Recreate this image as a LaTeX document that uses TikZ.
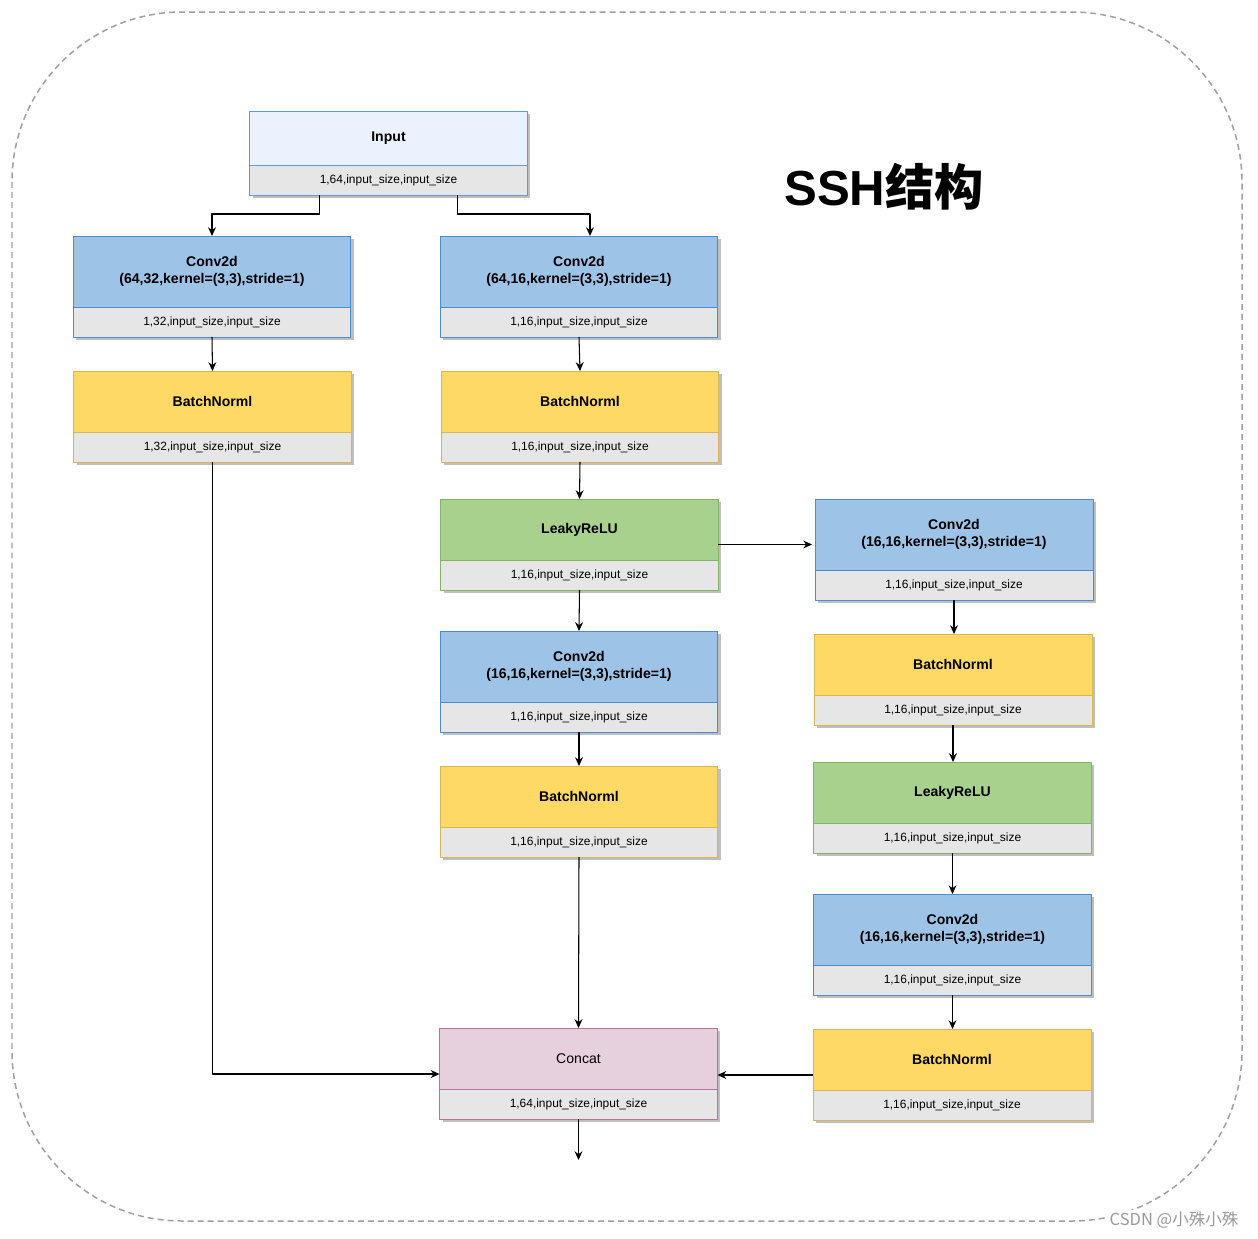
\documentclass[tikz,border=0pt]{standalone}
\usepackage{fontspec}
\setmainfont{Liberation Sans}
\newfontfamily\cjk{Noto Sans CJK SC}
\usetikzlibrary{positioning,arrows.meta,shadows}

\definecolor{inputfill}{HTML}{EBF2FD}
\definecolor{inputline}{HTML}{5C9BE0}
\definecolor{convfill}{HTML}{9DC3E6}
\definecolor{convline}{HTML}{4A8BD3}
\definecolor{bnfill}{HTML}{FFD966}
\definecolor{bnline}{HTML}{D6B656}
\definecolor{relufill}{HTML}{A9D18E}
\definecolor{reluline}{HTML}{82B366}
\definecolor{catfill}{HTML}{E6D0DE}
\definecolor{catline}{HTML}{B5739D}
\definecolor{dimfill}{HTML}{E6E6E6}
\definecolor{frameline}{HTML}{A0A0A0}

\begin{document}
\begin{tikzpicture}[
    x=0.02cm,
    y=-0.02cm,
    line join=round,
    layer/.style={
        draw,
        line width=0.55pt,
        outer sep=0pt,
        minimum width=5.56cm,
        text width=5.4cm,
        align=center,
        inner sep=0pt,
        font=\bfseries\fontsize{8}{9.6}\selectfont,
        drop shadow={shadow xshift=1.7pt, shadow yshift=-1.7pt,
                     fill=black!25, opacity=1}
    },
    dims/.style={
        layer,
        fill=dimfill,
        minimum height=0.6cm,
        font=\fontsize{6.8}{8}\selectfont
    },
    inputbox/.style={layer, fill=inputfill, draw=inputline, minimum height=1.08cm},
    convbox/.style={layer, fill=convfill, draw=convline, minimum height=1.42cm},
    bnbox/.style={layer, fill=bnfill, draw=bnline, minimum height=1.22cm},
    relubox/.style={layer, fill=relufill, draw=reluline, minimum height=1.22cm},
    catbox/.style={layer, fill=catfill, draw=catline, minimum height=1.22cm,
                   font=\fontsize{8}{9.6}\selectfont},
    link/.style={
        line width=0.6pt,
        -{Stealth[length=5pt,width=4.5pt]}
    }
]

\useasboundingbox (0,0) rectangle (1258,1238);

% =================================================
% Рамка и заголовок
% =================================================

\draw[frameline, line width=0.85pt, dash pattern=on 3.4pt off 2.3pt,
      rounded corners=3.4cm] (12,12) rectangle (1242,1221);

\node (title) at (884,187)
    {\fontsize{28}{32}\selectfont\bfseries SSH{\cjk\bfseries 结构}};

\node[fill=white, text=black!40, inner sep=1pt,
      font=\cjk\fontsize{9.4}{11}\selectfont] (mark) at (1174,1220)
    {CSDN @小殊小殊};

% =================================================
% Вход
% =================================================

\node[inputbox] (inp) at (388.5,138) {Input};
\node[dims, draw=inputline, below=0pt of inp] (inp-dim) {1,64,input\_size,input\_size};

% =================================================
% Левая ветвь
% =================================================

\node[convbox] (conv1) at (212,271.5) {Conv2d\\(64,32,kernel=(3,3),stride=1)};
\node[dims, draw=convline, below=0pt of conv1] (conv1-dim) {1,32,input\_size,input\_size};

\node[bnbox] (bn1) at (212.5,401.5) {BatchNorml};
\node[dims, draw=bnline, below=0pt of bn1] (bn1-dim) {1,32,input\_size,input\_size};

% =================================================
% Средняя ветвь
% =================================================

\node[convbox] (conv2) at (579,271.5) {Conv2d\\(64,16,kernel=(3,3),stride=1)};
\node[dims, draw=convline, below=0pt of conv2] (conv2-dim) {1,16,input\_size,input\_size};

\node[bnbox] (bn2) at (580,401.5) {BatchNorml};
\node[dims, draw=bnline, below=0pt of bn2] (bn2-dim) {1,16,input\_size,input\_size};

\node[relubox] (relu2) at (579.5,529.5) {LeakyReLU};
\node[dims, draw=reluline, below=0pt of relu2] (relu2-dim) {1,16,input\_size,input\_size};

\node[convbox] (conv3) at (579,666.5) {Conv2d\\(16,16,kernel=(3,3),stride=1)};
\node[dims, draw=convline, below=0pt of conv3] (conv3-dim) {1,16,input\_size,input\_size};

\node[bnbox] (bn3) at (579,796.5) {BatchNorml};
\node[dims, draw=bnline, below=0pt of bn3] (bn3-dim) {1,16,input\_size,input\_size};

% =================================================
% Правая ветвь
% =================================================

\node[convbox] (conv4) at (954,534.5) {Conv2d\\(16,16,kernel=(3,3),stride=1)};
\node[dims, draw=convline, below=0pt of conv4] (conv4-dim) {1,16,input\_size,input\_size};

\node[bnbox] (bn4) at (953,664.5) {BatchNorml};
\node[dims, draw=bnline, below=0pt of bn4] (bn4-dim) {1,16,input\_size,input\_size};

\node[relubox] (relu4) at (952.5,792.5) {LeakyReLU};
\node[dims, draw=reluline, below=0pt of relu4] (relu4-dim) {1,16,input\_size,input\_size};

\node[convbox] (conv5) at (952.5,929.5) {Conv2d\\(16,16,kernel=(3,3),stride=1)};
\node[dims, draw=convline, below=0pt of conv5] (conv5-dim) {1,16,input\_size,input\_size};

\node[bnbox] (bn5) at (952,1059.5) {BatchNorml};
\node[dims, draw=bnline, below=0pt of bn5] (bn5-dim) {1,16,input\_size,input\_size};

% =================================================
% Объединение
% =================================================

\node[catbox] (cat) at (578.5,1058.5) {Concat};
\node[dims, draw=catline, below=0pt of cat] (cat-dim) {1,64,input\_size,input\_size};

\coordinate (out) at (578.5,1160);

% =================================================
% Связи
% =================================================

\draw[link] ([xshift=1.4cm]inp-dim.south west) -- ++(0,19) -| (conv1.north);
\draw[link] ([xshift=-1.4cm]inp-dim.south east) -- ++(0,19) -| ([xshift=0.22cm]conv2.north);

\draw[link] (conv1-dim.south) -- (bn1.north);
\draw[link] (bn1-dim.south) |- ([yshift=0.3cm]cat.south west);

\draw[link] (conv2-dim.south) -- (bn2.north);
\draw[link] (bn2-dim.south) -- (relu2.north);
\draw[link] (relu2-dim.south) -- (conv3.north);
\draw[link] (conv3-dim.south) -- (conv3-dim.south |- bn3.north);
\draw[link] (bn3-dim.south) -- (cat.north);

\draw[link] ([yshift=0.31cm]relu2.south east) -- ([yshift=0.31cm,xshift=-0.06cm]relu2.south east -| conv4.west);
\draw[link] (conv4-dim.south) -- (conv4-dim.south |- bn4.north);
\draw[link] (bn4-dim.south) -- (bn4-dim.south |- relu4.north);
\draw[link] (relu4-dim.south) -- (relu4-dim.south |- conv5.north);
\draw[link] (conv5-dim.south) -- (conv5-dim.south |- bn5.north);
\draw[link] ([yshift=0.3cm]bn5.south west) -- ([yshift=0.3cm]bn5.south west -| cat.east);

\draw[link] (cat-dim.south) -- (out);

\end{tikzpicture}
\end{document}
